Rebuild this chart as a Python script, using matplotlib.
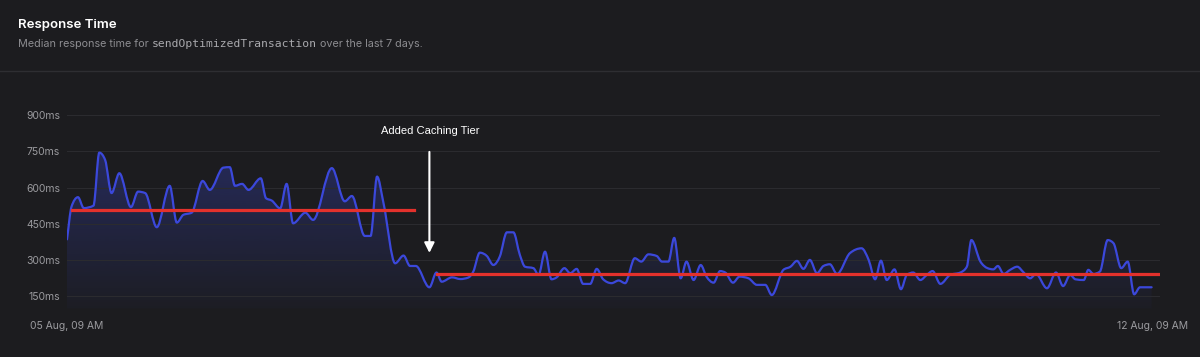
import matplotlib.pyplot as plt
import numpy as np
from matplotlib.colors import to_rgb
from matplotlib.lines import Line2D
from matplotlib.path import Path
from matplotlib.patches import PathPatch

# hours since 05 Aug 09 AM, median response time in ms
hours = [0.0, 0.7, 1.7, 2.6, 4.1, 5.0, 5.9, 6.9, 8.1, 9.9, 11.0, 12.1, 13.9, 15.9, 17.0,
         18.0, 19.3, 21.0, 22.1, 24.2, 25.2, 26.0, 27.1, 28.1, 30.0, 30.8, 31.7, 33.0,
         34.0, 35.0, 36.9, 38.1, 41.0, 43.0, 44.1, 46.1, 47.0, 48.0, 49.0, 50.8, 52.1,
         53.1, 54.0, 56.1, 57.2, 58.0, 59.6, 60.9, 62.1, 62.9, 63.9, 65.0, 66.0, 67.0,
         68.1, 69.1, 70.1, 70.9, 72.2, 73.0, 74.0, 75.0, 75.8, 77.0, 77.9, 78.9, 79.9,
         81.0, 82.0, 83.0, 84.3, 85.4, 86.4, 87.9, 88.9, 90.0, 91.3, 92.1, 93.1, 94.0,
         95.0, 95.9, 97.0, 98.1, 99.0, 100.1, 101.1, 101.9, 103.1, 104.1, 105.5, 106.8,
         108.1, 109.1, 110.9, 112.0, 113.0, 114.0, 115.0, 116.1, 117.1, 118.1, 119.2,
         121.2, 123.0, 124.1, 125.1, 126.0, 126.9, 128.1, 129.1, 130.0, 131.0, 132.1,
         133.1, 134.0, 135.2, 136.7, 138.3, 139.3, 140.0, 141.4, 142.5, 143.4, 144.1,
         145.0, 146.0, 147.1, 148.1, 149.1, 150.0, 151.7, 153.1, 154.2, 155.3, 156.1,
         157.4, 158.1, 158.9, 159.9, 161.1, 162.0, 163.2, 164.2, 165.2, 166.1, 167.9]
response_ms = [386, 521, 560, 515, 525, 744, 714, 577, 659, 519, 583, 577, 436, 607, 455,
               487, 496, 627, 590, 682, 684, 607, 615, 590, 638, 556, 546, 514,
               615, 452, 496, 466, 680, 543, 565, 400, 400, 645, 535, 287, 319,
               276, 276, 188, 249, 211, 229, 222, 228, 253, 331, 317, 280, 315,
               415, 415, 322, 273, 267, 239, 335, 221, 229, 267, 246, 264, 202,
               202, 264, 221, 205, 216, 205, 308, 294, 324, 317, 294, 294, 392,
               225, 294, 218, 280, 232, 207, 255, 249, 207, 232, 225, 198,
               198, 156, 260, 273, 297, 264, 301, 246, 276, 283, 243,
               329, 349, 301, 221, 298, 218, 262, 180, 239, 249, 218,
               239, 255, 202, 239, 249, 273, 383, 294, 267, 262, 276,
               243, 260, 273, 249, 225, 243, 184, 249, 193, 239, 221,
               218, 260, 243, 253, 383, 370, 267, 294, 159, 188, 188]

before_mean = 509
before_span = [0.8, 53.7]
after_mean = 241
after_span = [57.3, 169.1]
change_hour = 56.1

yticks = [150, 300, 450, 600, 750, 900]
ytick_labels = ['150ms', '300ms', '450ms', '600ms', '750ms', '900ms']
xticks = [0, 168]
xtick_labels = ['05 Aug, 09 AM', '12 Aug, 09 AM']

BG = '#1c1c1f'
W, H = 1200, 357
YMIN = 100


def monotone_curve(x, y):
    # monotone cubic bezier through the points (like a "monotone" area chart)
    x = np.asarray(x, float)
    y = np.asarray(y, float)
    h = np.diff(x)
    d = np.diff(y) / h
    m = np.zeros_like(y)
    m[0], m[-1] = d[0], d[-1]
    for i in range(1, len(y) - 1):
        s0, s1 = d[i - 1], d[i]
        if s0 * s1 <= 0:
            continue
        p = (s0 * h[i] + s1 * h[i - 1]) / (h[i - 1] + h[i])
        m[i] = np.sign(s0) * min(abs(s0), abs(s1), 0.5 * abs(p)) * 2
    verts = [(x[0], y[0])]
    codes = [Path.MOVETO]
    for i in range(len(x) - 1):
        verts += [(x[i] + h[i] / 3, y[i] + m[i] * h[i] / 3),
                  (x[i + 1] - h[i] / 3, y[i + 1] - m[i + 1] * h[i] / 3),
                  (x[i + 1], y[i + 1])]
        codes += [Path.CURVE4] * 3
    return verts, codes


fig = plt.figure(figsize=(12, 3.57), dpi=100, facecolor=BG)
ax = fig.add_axes([67 / W, 1 - 308.6 / H, (1160 - 67) / W, (308.6 - 110) / H])
ax.set_facecolor(BG)

verts, codes = monotone_curve(hours, response_ms)
line_path = Path(verts, codes)
area_path = Path(verts + [(hours[-1], YMIN), (hours[0], YMIN), (hours[0], YMIN)],
                 codes + [Path.LINETO, Path.LINETO, Path.CLOSEPOLY])

# gradient fill under the line
rgba = np.zeros((256, 1, 4))
rgba[..., :3] = to_rgb('#3a48d0')
rgba[..., 3] = np.linspace(0.03, 0.34, 256)[:, None]
img = ax.imshow(rgba, extent=[0, 169.2, YMIN, 760], origin='lower', aspect='auto',
                zorder=1, interpolation='bilinear')
img.set_clip_path(area_path, transform=ax.transData)

ax.add_patch(PathPatch(line_path, fill=False, edgecolor='#3b48db', lw=1.6, zorder=3,
                       joinstyle='round', capstyle='round'))
ax.plot(before_span, [before_mean] * 2, color='#e3312c', lw=2.3, zorder=4)
ax.plot(after_span, [after_mean] * 2, color='#e3312c', lw=2.3, zorder=4)

ax.annotate('', xy=(change_hour, 330), xytext=(change_hour, 747),
            arrowprops=dict(arrowstyle='-|>', color='white', lw=1.5, mutation_scale=15,
                            shrinkA=0, shrinkB=0), zorder=5)
ax.text(change_hour + 0.2, 834, 'Added Caching Tier', color='white', ha='center', va='center',
        fontsize=8, family=['Liberation Sans', 'DejaVu Sans'], zorder=5)

ax.set_xlim(0, 169.2)
ax.set_ylim(YMIN, 920)
ax.set_yticks(yticks, ytick_labels)
ax.set_xticks(xticks, xtick_labels)
ax.grid(axis='y', color='#2b2b2f', lw=0.8, zorder=0)
ax.tick_params(length=0, colors='#9a9a9e', labelsize=7.5)
ax.tick_params(axis='y', pad=5)
ax.tick_params(axis='x', pad=9)
for lbl in ax.get_xticklabels() + ax.get_yticklabels():
    lbl.set_family(['Inter', 'DejaVu Sans'])
for s in ax.spines.values():
    s.set_visible(False)

# header
fig.add_artist(Line2D([0, 1], [1 - 71 / H] * 2, transform=fig.transFigure, color='#2e2e32', lw=1))
fig.text(18 / W, 1 - 25 / H, 'Response Time', color='white', fontsize=9.5, fontweight='semibold',
         family=['Inter', 'DejaVu Sans'], va='center')

r = fig.canvas.get_renderer()
sub_y = 1 - 44 / H
t1 = fig.text(18 / W, sub_y, 'Median response time for', color='#8c8c90', fontsize=7.8,
              family=['Inter', 'DejaVu Sans'], va='center')
x1 = t1.get_window_extent(r).x1 + 3
t2 = fig.text(x1 / W, sub_y, 'sendOptimizedTransaction', color='#a9a9ad', fontsize=8.2,
              family=['DejaVu Sans Mono'], va='center')
x2 = t2.get_window_extent(r).x1 + 3
fig.text(x2 / W, sub_y, 'over the last 7 days.', color='#8c8c90', fontsize=7.8,
         family=['Inter', 'DejaVu Sans'], va='center')

fig.savefig('out.png', dpi=100, facecolor=BG)
